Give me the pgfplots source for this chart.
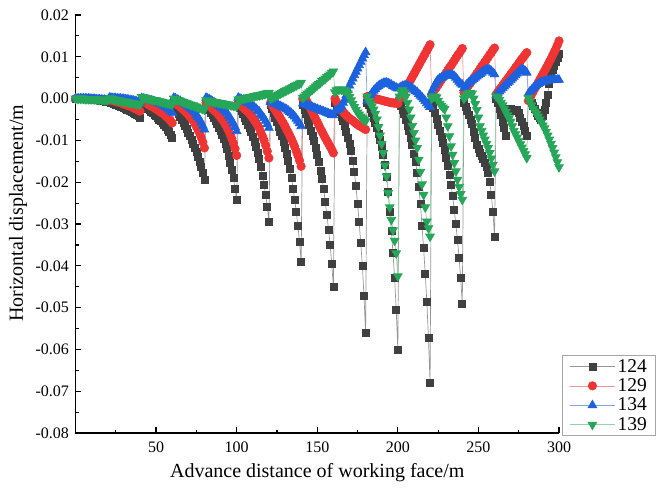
\documentclass[border=0pt]{standalone}
\usepackage{fontspec}
\setmainfont{Liberation Serif}
\usepackage{pgfplots}
\pgfplotsset{compat=1.18}
\usepackage{pgfplotstable}
\definecolor{cK}{RGB}{64,64,64}
\definecolor{cKl}{RGB}{150,150,150}
\definecolor{cR}{RGB}{240,52,52}
\definecolor{cRl}{RGB}{245,150,150}
\definecolor{cB}{RGB}{28,98,222}
\definecolor{cBl}{RGB}{130,165,235}
\definecolor{cG}{RGB}{38,166,88}
\definecolor{cGl}{RGB}{150,210,170}

\pgfplotstableread{
x a b c d
0 0 0 0 0
1 0 0 0 0
2 0 0 0 0
3 0 0 0 0
4 0 0 0 0
5 0 0 0 0
6 0 0 0 -0.0001
7 0 0 0 -0.0001
8 -0.0001 0 0 -0.0001
9 -0.0001 -0.0001 0 -0.0001
10 -0.0001 -0.0001 -0.0001 -0.0001
11 -0.0002 -0.0001 -0.0001 -0.0001
12 -0.0002 -0.0001 -0.0001 -0.0002
13 -0.0003 -0.0002 -0.0002 -0.0002
14 -0.0003 -0.0002 -0.0002 -0.0002
15 -0.0004 -0.0002 -0.0002 -0.0002
16 -0.0005 -0.0002 -0.0003 -0.0002
17 -0.0005 -0.0003 -0.0003 -0.0003
18 -0.0006 -0.0003 -0.0003 -0.0003
19 -0.0007 -0.0003 -0.0004 -0.0003
20 -0.0008 -0.0003 -0.0004 -0.0003
21 -0.0008 -0.0003 0.0002 0.0001
22 -0.001 -0.0004 0.0002 0
23 -0.0011 -0.0005 0.0001 -0.0001
24 -0.0013 -0.0006 0.0001 -0.0002
25 -0.0014 -0.0007 0.0001 -0.0003
26 -0.0016 -0.0008 0 -0.0004
27 -0.0017 -0.0009 0 -0.0004
28 -0.0019 -0.001 0 -0.0005
29 -0.002 -0.0012 -0.0001 -0.0006
30 -0.0022 -0.0013 -0.0001 -0.0007
31 -0.0024 -0.0014 -0.0002 -0.0007
32 -0.0026 -0.0016 -0.0002 -0.0008
33 -0.0028 -0.0017 -0.0003 -0.0009
34 -0.003 -0.0018 -0.0004 -0.001
35 -0.0032 -0.002 -0.0004 -0.001
36 -0.0034 -0.0022 -0.0005 -0.0011
37 -0.0036 -0.0024 -0.0006 -0.0012
38 -0.0039 -0.0025 -0.0007 -0.0013
39 -0.0042 -0.0028 -0.0009 -0.0013
40 -0.0045 -0.003 -0.001 -0.0014
41 -0.0012 -0.0005 0.0001 0.0004
42 -0.0015 -0.0007 0 0.0003
43 -0.0018 -0.0009 -0.0001 0.0002
44 -0.0022 -0.0011 -0.0002 0.0001
45 -0.0025 -0.0013 -0.0003 0
46 -0.0028 -0.0016 -0.0004 -0.0001
47 -0.0031 -0.0018 -0.0005 -0.0002
48 -0.0035 -0.002 -0.0006 -0.0003
49 -0.0038 -0.0022 -0.0007 -0.0003
50 -0.0042 -0.0025 -0.0009 -0.0004
51 -0.0046 -0.0027 -0.001 -0.0005
52 -0.005 -0.003 -0.0012 -0.0006
53 -0.0054 -0.0033 -0.0013 -0.0007
54 -0.0058 -0.0035 -0.0015 -0.0008
55 -0.0063 -0.0038 -0.0018 -0.0009
56 -0.0068 -0.0042 -0.002 -0.001
57 -0.0074 -0.0045 -0.0023 -0.0011
58 -0.0079 -0.0049 -0.0026 -0.0012
59 -0.0086 -0.0053 -0.003 -0.0013
60 -0.0093 -0.0058 -0.0034 -0.0014
61 -0.0015 -0.0008 0.0002 0
62 -0.0022 -0.0011 0 -0.0001
63 -0.0029 -0.0014 -0.0002 -0.0003
64 -0.0036 -0.0017 -0.0004 -0.0004
65 -0.0044 -0.002 -0.0006 -0.0005
66 -0.0051 -0.0023 -0.0009 -0.0007
67 -0.0058 -0.0027 -0.0011 -0.0008
68 -0.0065 -0.003 -0.0013 -0.001
69 -0.0072 -0.0034 -0.0016 -0.0011
70 -0.0081 -0.0038 -0.0019 -0.0012
71 -0.009 -0.0043 -0.0022 -0.0014
72 -0.0099 -0.0048 -0.0025 -0.0015
73 -0.0108 -0.0053 -0.0029 -0.0016
74 -0.0117 -0.0059 -0.0033 -0.0018
75 -0.0128 -0.0067 -0.0039 -0.0019
76 -0.0139 -0.0075 -0.0044 -0.0021
77 -0.0151 -0.0083 -0.005 -0.0022
78 -0.0164 -0.0093 -0.0057 -0.0023
79 -0.0178 -0.0104 -0.0065 -0.0025
80 -0.0194 -0.0118 -0.0074 -0.0026
81 -0.0015 -0.001 0.0002 -0.0004
82 -0.0021 -0.0013 0 -0.0005
83 -0.0026 -0.0016 -0.0002 -0.0005
84 -0.0033 -0.002 -0.0004 -0.0006
85 -0.004 -0.0024 -0.0007 -0.0007
86 -0.0047 -0.0028 -0.0009 -0.0008
87 -0.0054 -0.0031 -0.0012 -0.0008
88 -0.0061 -0.0035 -0.0014 -0.0009
89 -0.0069 -0.004 -0.0017 -0.001
90 -0.0078 -0.0045 -0.002 -0.0011
91 -0.0087 -0.005 -0.0023 -0.0011
92 -0.0097 -0.0055 -0.0027 -0.0012
93 -0.0108 -0.0062 -0.0031 -0.0013
94 -0.0121 -0.0069 -0.0035 -0.0014
95 -0.0137 -0.0077 -0.0041 -0.0014
96 -0.0153 -0.0086 -0.0046 -0.0015
97 -0.0171 -0.0096 -0.0053 -0.0016
98 -0.019 -0.0107 -0.006 -0.0017
99 -0.0215 -0.012 -0.0068 -0.0017
100 -0.0243 -0.0136 -0.0078 -0.0018
101 -0.0015 -0.001 0.0002 -0.0002
102 -0.0022 -0.0013 0 -0.0001
103 -0.0029 -0.0017 -0.0002 -0.0001
104 -0.0037 -0.0021 -0.0004 0
105 -0.0046 -0.0025 -0.0006 0.0001
106 -0.0054 -0.0028 -0.0008 0.0002
107 -0.0062 -0.0032 -0.001 0.0003
108 -0.0071 -0.0036 -0.0012 0.0003
109 -0.008 -0.0041 -0.0015 0.0004
110 -0.0092 -0.0046 -0.0018 0.0005
111 -0.0103 -0.0052 -0.0021 0.0006
112 -0.0115 -0.0058 -0.0024 0.0007
113 -0.0129 -0.0064 -0.0028 0.0008
114 -0.0145 -0.0071 -0.0031 0.0008
115 -0.0164 -0.0081 -0.0037 0.0009
116 -0.0184 -0.009 -0.0042 0.001
117 -0.0206 -0.01 -0.0047 0.0011
118 -0.023 -0.0112 -0.0053 0.0012
119 -0.0259 -0.0126 -0.0061 0.0013
120 -0.0294 -0.0142 -0.007 0.0014
121 -0.0015 -0.001 -0.0008 0
122 -0.0024 -0.0016 -0.0009 0.0002
123 -0.0034 -0.0022 -0.0011 0.0004
124 -0.0045 -0.0028 -0.0013 0.0006
125 -0.0056 -0.0034 -0.0014 0.0008
126 -0.0068 -0.004 -0.0016 0.001
127 -0.0079 -0.0046 -0.0018 0.0012
128 -0.009 -0.0053 -0.002 0.0014
129 -0.0103 -0.0059 -0.0022 0.0016
130 -0.0118 -0.0066 -0.0024 0.0018
131 -0.0133 -0.0074 -0.0026 0.002
132 -0.015 -0.0081 -0.0029 0.0022
133 -0.0169 -0.0089 -0.0032 0.0024
134 -0.019 -0.0097 -0.0035 0.0026
135 -0.0216 -0.0106 -0.0039 0.0028
136 -0.0242 -0.0115 -0.0043 0.003
137 -0.0272 -0.0126 -0.0048 0.0032
138 -0.0304 -0.0136 -0.0053 0.0034
139 -0.0343 -0.0148 -0.0059 0.0036
140 -0.039 -0.0162 -0.0066 0.0038
141 -0.0015 0 -0.0012 0.0002
142 -0.0026 0 -0.0013 0.0005
143 -0.0037 -0.0002 -0.0015 0.0009
144 -0.005 -0.001 -0.0016 0.0012
145 -0.0063 -0.0017 -0.0018 0.0015
146 -0.0076 -0.0025 -0.0019 0.0019
147 -0.009 -0.0033 -0.0021 0.0022
148 -0.0102 -0.0041 -0.0022 0.0025
149 -0.0117 -0.0049 -0.0024 0.0029
150 -0.0135 -0.0056 -0.0025 0.0032
151 -0.0152 -0.0064 -0.0027 0.0035
152 -0.0172 -0.0072 -0.0028 0.0038
153 -0.0193 -0.0079 -0.003 0.0042
154 -0.0217 -0.0087 -0.0031 0.0045
155 -0.0248 -0.0094 -0.0033 0.0048
156 -0.0278 -0.0101 -0.0034 0.0052
157 -0.0313 -0.0108 -0.0036 0.0055
158 -0.035 -0.0115 -0.0037 0.0058
159 -0.0396 -0.0122 -0.0039 0.0062
160 -0.045 -0.013 -0.004 0.0065
161 -0.001 0 -0.003 0.0015
162 -0.0016 -0.0008 -0.0028 0.002
163 -0.0024 -0.0015 -0.0026 0.0022
164 -0.0032 -0.0021 -0.0024 0.0022
165 -0.0043 -0.0027 -0.0018 0.0022
166 -0.0054 -0.0032 -0.001 0.0021
167 -0.0065 -0.0036 -0.0003 0.002
168 -0.0079 -0.004 0.0008 0.0018
169 -0.0093 -0.0044 0.002 0.0012
170 -0.0109 -0.0047 0.0031 0.0004
171 -0.0126 -0.005 0.004 -0.0004
172 -0.0148 -0.0053 0.0048 -0.0012
173 -0.0175 -0.0056 0.0056 -0.002
174 -0.0208 -0.0059 0.0064 -0.0027
175 -0.0252 -0.0062 0.0072 -0.0033
176 -0.0296 -0.0065 0.008 -0.0038
177 -0.0346 -0.0067 0.0088 -0.0043
178 -0.0401 -0.0069 0.0096 -0.0047
179 -0.0472 -0.0072 0.0104 -0.005
180 -0.056 -0.0074 0.0111 -0.0054
181 -0.001 0.0005 -0.0005 0.0005
182 -0.0016 0.0004 0.0002 -0.0005
183 -0.0025 0.0003 0.0008 -0.0012
184 -0.0034 0.0002 0.0014 -0.0018
185 -0.0045 0.0001 0.0019 -0.0026
186 -0.0057 0 0.0023 -0.0036
187 -0.0069 -0.0001 0.0027 -0.005
188 -0.0084 -0.0002 0.003 -0.0068
189 -0.0099 -0.0003 0.0033 -0.0088
190 -0.0116 -0.0004 0.0035 -0.0108
191 -0.0134 -0.0005 0.0037 -0.013
192 -0.0158 -0.0006 0.0038 -0.016
193 -0.0187 -0.0007 0.0038 -0.0186
194 -0.0222 -0.0008 0.0037 -0.0226
195 -0.027 -0.0009 0.0035 -0.026
196 -0.0317 -0.001 0.0033 -0.029
197 -0.037 -0.001 0.003 -0.0315
198 -0.0429 -0.0011 0.0028 -0.034
199 -0.0506 -0.0011 0.0026 -0.037
200 -0.06 -0.0012 0.0024 -0.0425
201 -0.001 0 0.0025 0.0005
202 -0.0017 0.0005 0.0028 0.0015
203 -0.0027 0.001 0.003 0.002
204 -0.0037 0.0017 0.0031 0.0015
205 -0.005 0.0024 0.0031 0.0005
206 -0.0064 0.0031 0.003 -0.001
207 -0.0077 0.0038 0.0029 -0.0026
208 -0.0094 0.0045 0.0027 -0.0045
209 -0.0111 0.0052 0.0024 -0.0065
210 -0.0131 0.0059 0.0021 -0.0082
211 -0.0151 0.0066 0.0018 -0.01
212 -0.0178 0.0073 0.0015 -0.0118
213 -0.0211 0.008 0.0011 -0.0146
214 -0.0251 0.0087 0.0007 -0.0175
215 -0.0305 0.0094 0.0003 -0.0205
216 -0.0358 0.0101 -0.0001 -0.023
217 -0.0419 0.0108 -0.0006 -0.026
218 -0.0486 0.0115 -0.0011 -0.0294
219 -0.0573 0.0122 -0.0016 -0.031
220 -0.068 0.0129 -0.002 -0.033
221 -0.001 0.001 0.0015 0
222 -0.0022 0.0016 0.0025 0.0005
223 -0.0034 0.0022 0.0033 0.0005
224 -0.0048 0.0027 0.004 0.0003
225 -0.0063 0.0033 0.0045 -0.0005
226 -0.0077 0.0039 0.0048 -0.0012
227 -0.0092 0.0045 0.005 -0.0017
228 -0.0106 0.005 0.0052 -0.0021
229 -0.0123 0.0056 0.0054 -0.0025
230 -0.0142 0.0062 0.0055 -0.0045
231 -0.0161 0.0068 0.0056 -0.0066
232 -0.0183 0.0074 0.0057 -0.009
233 -0.0207 0.0079 0.0057 -0.0114
234 -0.0233 0.0085 0.0056 -0.0134
235 -0.0267 0.0091 0.0054 -0.0154
236 -0.03 0.0097 0.005 -0.0174
237 -0.0339 0.0103 0.0045 -0.0194
238 -0.038 0.0108 0.004 -0.0211
239 -0.043 0.0114 0.0036 -0.0228
240 -0.049 0.012 0.0033 -0.0242
241 -0.001 0.0015 0.0025 0
242 -0.002 0.0021 0.003 0.0005
243 -0.003 0.0026 0.0035 0.001
244 -0.004 0.0032 0.0038 0.0013
245 -0.005 0.0037 0.0041 0.0014
246 -0.006 0.0043 0.0044 0.0012
247 -0.008 0.0049 0.0047 0
248 -0.0095 0.0054 0.005 -0.0013
249 -0.011 0.006 0.0053 -0.0027
250 -0.012 0.0065 0.0056 -0.0045
251 -0.013 0.0071 0.0059 -0.0066
252 -0.0138 0.0077 0.0062 -0.0077
253 -0.0145 0.0082 0.0065 -0.0088
254 -0.0153 0.0088 0.0067 -0.0098
255 -0.0163 0.0093 0.0069 -0.0108
256 -0.0178 0.0099 0.007 -0.0118
257 -0.0198 0.0105 0.0069 -0.013
258 -0.023 0.011 0.0066 -0.0143
259 -0.027 0.0116 0.0062 -0.0158
260 -0.033 0.0121 0.0058 -0.0174
261 0 0.001 0.0008 0.0005
262 -0.001 0.0015 0.0012 0.0002
263 -0.0025 0.0021 0.0017 -0.0003
264 -0.004 0.0026 0.0021 -0.001
265 -0.0055 0.0031 0.0025 -0.0016
266 -0.007 0.0037 0.0029 -0.0024
267 -0.009 0.0042 0.0033 -0.0032
268 -0.003 0.0047 0.0037 -0.004
269 -0.0025 0.0052 0.004 -0.0047
270 -0.0025 0.0058 0.0044 -0.0055
271 -0.003 0.0063 0.0048 -0.0066
272 -0.003 0.0068 0.0052 -0.0077
273 -0.0028 0.0074 0.0056 -0.0085
274 -0.0028 0.0079 0.006 -0.0093
275 -0.0035 0.0084 0.0064 -0.0101
276 -0.0045 0.009 0.0068 -0.0109
277 -0.0055 0.0095 0.007 -0.0117
278 -0.0065 0.01 0.0069 -0.0125
279 -0.0078 0.0105 0.0066 -0.0133
280 -0.009 0.011 0.0062 -0.0142
281 0.0005 -0.0005 0.0012 0.0002
282 0 0.0002 0.0017 -0.0007
283 -0.001 0.001 0.0021 -0.0016
284 -0.0018 0.0017 0.0025 -0.0025
285 -0.0025 0.0024 0.0029 -0.0031
286 -0.0035 0.0031 0.0032 -0.0037
287 -0.0042 0.0038 0.0035 -0.0043
288 -0.0047 0.0045 0.0037 -0.005
289 -0.005 0.0052 0.0039 -0.0057
290 -0.0042 0.0059 0.004 -0.0064
291 -0.0028 0.0066 0.0041 -0.0071
292 -0.001 0.0073 0.0042 -0.0079
293 0.001 0.008 0.0043 -0.0088
294 0.0035 0.0088 0.0044 -0.0098
295 0.0055 0.0095 0.0044 -0.0108
296 0.0068 0.0103 0.0045 -0.0118
297 0.0078 0.0111 0.0045 -0.0129
298 0.0088 0.0119 0.0045 -0.014
299 0.0098 0.0128 0.0045 -0.0152
300 0.0108 0.0138 0.0045 -0.0164
}\data

\begin{document}
\begin{tikzpicture}
\begin{axis}[
  at={(0,0)}, anchor=south west,
  scale only axis, width=483.5pt, height=418pt,
  xmin=0, xmax=300, ymin=-0.08, ymax=0.02,
  axis x line*=bottom, axis y line*=left,
  axis line style={line width=1.3pt, black},
  xtick={50,100,150,200,250,300},
  minor xtick={25,75,125,175,225,275},
  ytick={-0.08,-0.07,-0.06,-0.05,-0.04,-0.03,-0.02,-0.01,0,0.01,0.02},
  minor ytick={-0.075,-0.065,-0.055,-0.045,-0.035,-0.025,-0.015,-0.005,0.005,0.015},
  scaled y ticks=false,
  tick align=inside,
  major tick length=6pt, minor tick length=3.5pt,
  every tick/.style={line width=1.2pt, black},
  /pgf/number format/assume math mode=true,
  yticklabel style={/pgf/number format/.cd, fixed, fixed zerofill, precision=2, /tikz/.cd, xshift=-3pt},
  xticklabel style={yshift=-5pt},
  ticklabel style={font=\fontsize{16}{18}\selectfont},
  xlabel={Advance distance of working face/m},
  ylabel={Horizontal displacement/m},
  xlabel style={font=\fontsize{20}{22}\selectfont, at={(axis description cs:0.5,-0.095)}, anchor=center},
  ylabel style={font=\fontsize{20}{22}\selectfont, at={(axis description cs:-0.119,0.526)}, anchor=center},
  legend style={at={(1.006,0.187)}, anchor=north west, draw=black!35, line width=0.8pt,
    font=\fontsize{19.5}{22}\selectfont, inner xsep=7pt, inner ysep=2pt, row sep=1pt,
    /tikz/every even column/.append style={column sep=0pt}},
  legend cell align=left,
  legend image code/.code={\draw[mark repeat=2,mark phase=2] plot coordinates {(0cm,0cm) (0.8cm,0cm) (1.6cm,0cm)};},
]
\addplot[cKl, line width=0.7pt, mark=square*, mark size=3.5pt, mark options={solid, fill=cK, draw=cK}] table[x=x,y=a]{\data};
\addplot[cRl, line width=0.7pt, mark=*, mark size=4.2pt, mark options={solid, fill=cR, draw=cR}] table[x=x,y=b]{\data};
\addplot[cBl, line width=0.7pt, mark=triangle*, mark size=5pt, mark options={solid, fill=cB, draw=cB}] table[x=x,y=c]{\data};
\addplot[cGl, line width=0.7pt, mark=triangle*, mark size=5pt, mark options={solid, rotate=180, fill=cG, draw=cG}] table[x=x,y=d]{\data};
\legend{124,129,134,139}
\end{axis}
\path (-75.5pt,-63pt) rectangle (591.5pt,433pt);
\end{tikzpicture}
\end{document}
